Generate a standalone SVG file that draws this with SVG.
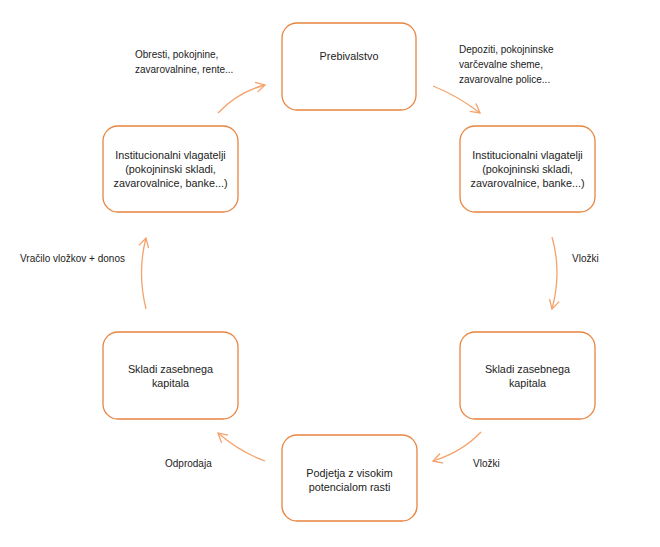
<svg xmlns="http://www.w3.org/2000/svg" width="660" height="547" viewBox="0 0 660 547">
<defs>
<style>
.box{fill:#fff;stroke:#E8843F;stroke-width:1.3}
.t{font-family:"Liberation Sans",Arial,sans-serif;font-size:10px;fill:#222}
.c{text-anchor:middle;font-size:10.8px}
.arr{fill:none;stroke:#F4A36C;stroke-width:1.3;marker-end:url(#ah)}
</style>
<marker id="ah" viewBox="0 0 12 12" refX="10" refY="6" markerWidth="12" markerHeight="12" markerUnits="userSpaceOnUse" orient="auto">
<polyline points="1,1 10,6 1,11" fill="none" stroke="#F4A36C" stroke-width="1.3"/>
</marker>
</defs>
<rect width="660" height="547" fill="#fff"/>
<g id="connectors">
<path class="arr" d="M218,113 Q238,92 265,85"/>
<path class="arr" d="M433,86 Q458,96 480,113"/>
<path class="arr" d="M552,237 Q562,272 552,309"/>
<path class="arr" d="M481,432 Q462,452 433,461"/>
<path class="arr" d="M265,461 Q240,452 218,433"/>
<path class="arr" d="M146,309 Q137,272 146,238"/>
</g>
<g id="n-prebivalstvo">
<rect class="box" x="282" y="23" width="134" height="87" rx="15"/>
<text class="t c" x="349" y="60">Prebivalstvo</text>
</g>
<g id="n-inst-left">
<rect class="box" x="103" y="126" width="135" height="86" rx="15"/>
<text class="t c" x="170.5" y="159">Institucionalni vlagatelji</text>
<text class="t c" x="170.5" y="173">(pokojninski skladi,</text>
<text class="t c" x="170.5" y="187">zavarovalnice, banke...)</text>
</g>
<g id="n-inst-right">
<rect class="box" x="460" y="126" width="135" height="86" rx="15"/>
<text class="t c" x="527.5" y="159">Institucionalni vlagatelji</text>
<text class="t c" x="527.5" y="173">(pokojninski skladi,</text>
<text class="t c" x="527.5" y="187">zavarovalnice, banke...)</text>
</g>
<g id="n-skladi-left">
<rect class="box" x="103" y="332" width="135" height="87" rx="15"/>
<text class="t c" x="170.5" y="373">Skladi zasebnega</text>
<text class="t c" x="170.5" y="387">kapitala</text>
</g>
<g id="n-skladi-right">
<rect class="box" x="460" y="332" width="135" height="87" rx="15"/>
<text class="t c" x="527.5" y="373">Skladi zasebnega</text>
<text class="t c" x="527.5" y="387">kapitala</text>
</g>
<g id="n-podjetja">
<rect class="box" x="282" y="435" width="135" height="86" rx="15"/>
<text class="t c" x="349.5" y="477">Podjetja z visokim</text>
<text class="t c" x="349.5" y="491">potencialom rasti</text>
</g>
<g id="labels">
<text class="t" x="135" y="58">Obresti, pokojnine,</text>
<text class="t" x="135" y="73">zavarovalnine, rente...</text>
<text class="t" x="459" y="53">Depoziti, pokojninske</text>
<text class="t" x="459" y="68">varčevalne sheme,</text>
<text class="t" x="459" y="83">zavarovalne police...</text>
<text class="t" x="20" y="262">Vračilo vložkov + donos</text>
<text class="t" x="572" y="262">Vložki</text>
<text class="t" x="165" y="467">Odprodaja</text>
<text class="t" x="473" y="467">Vložki</text>
</g>
</svg>
